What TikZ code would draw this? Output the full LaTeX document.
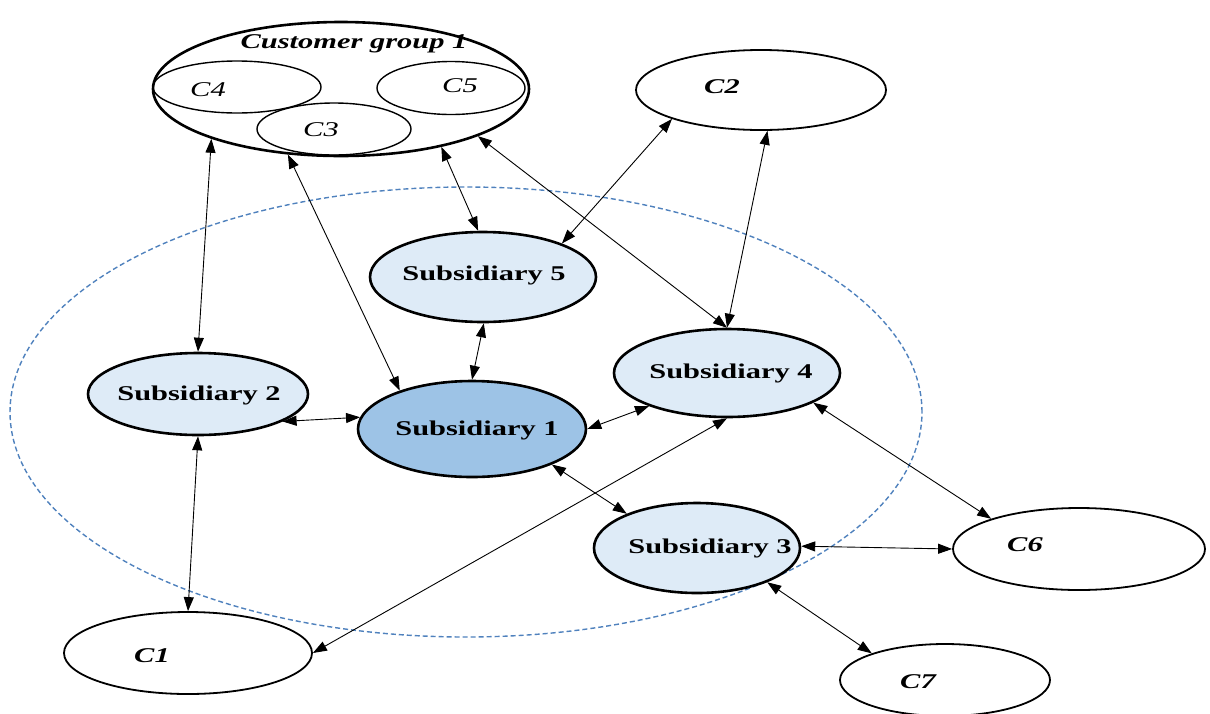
\documentclass[tikz,border=0pt]{standalone}
\usepackage{fontspec}
\setmainfont[FakeStretch=1.45]{Liberation Serif}
\usetikzlibrary{shapes.geometric,arrows.meta}
\definecolor{subfill}{HTML}{DEEBF7}
\definecolor{mainfill}{HTML}{9DC3E6}
\definecolor{ringblue}{HTML}{4F81BD}
\tikzset{
  sub/.style={ellipse,draw,line width=2.6pt,fill=subfill,inner sep=0pt},
  subtext/.style={inner sep=0pt,font=\fontsize{21}{25}\selectfont\bfseries},
  cust/.style={ellipse,draw,line width=1.8pt,fill=white,inner sep=0pt},
  part/.style={ellipse,draw,line width=1.4pt,inner sep=0pt},
  custtext/.style={inner sep=0pt,font=\fontsize{21}{25}\selectfont\bfseries\itshape},
  parttext/.style={inner sep=0pt,font=\fontsize{21}{25}\selectfont\itshape},
  link/.style={arrows={Triangle[length=14pt,width=10pt]-Triangle[length=14pt,width=10pt]},line width=0.9pt}
}
\begin{document}
\begin{tikzpicture}[x=1pt,y=1pt]
  \useasboundingbox (0,0) rectangle (1210,-713);
  % group boundary
  \draw[ringblue,dash pattern=on 5pt off 3pt,line width=1.4pt] (466,-412) ellipse [x radius=456,y radius=225];
  % customer group 1
  \node[cust,line width=2.6pt,minimum width=376pt,minimum height=134pt] (cg) at (341,-89) {};
  \node[custtext] (cgt) at (354,-44) {Customer group 1};
  \node[part,minimum width=168pt,minimum height=52pt] (c4) at (237,-87) {};
  \node[part,minimum width=148pt,minimum height=53pt] (c5) at (451,-88) {};
  \node[part,minimum width=154pt,minimum height=52pt] (c3) at (334,-129) {};
  \node[parttext] (c4t) at (208,-90) {C4};
  \node[parttext] (c5t) at (460,-86) {C5};
  \node[parttext] (c3t) at (321,-130) {C3};
  % single customers
  \node[cust,minimum width=250pt,minimum height=80pt] (c2) at (761,-90) {};
  \node[custtext] (c2t) at (722,-87) {C2};
  \node[cust,minimum width=248pt,minimum height=82pt] (c1) at (188,-653) {};
  \node[custtext] (c1t) at (152,-656) {C1};
  \node[cust,minimum width=252pt,minimum height=82pt] (c6) at (1079,-549) {};
  \node[custtext] (c6t) at (1025,-545) {C6};
  \node[cust,minimum width=210pt,minimum height=72pt] (c7) at (945,-680) {};
  \node[custtext] (c7t) at (918,-682) {C7};
  % subsidiaries
  \node[sub,minimum width=226pt,minimum height=90pt] (sub5) at (483,-277) {};
  \node[subtext] (sub5t) at (484,-275) {Subsidiary 5};
  \node[sub,minimum width=220pt,minimum height=82pt] (sub2) at (198,-394) {};
  \node[subtext] (sub2t) at (199,-395) {Subsidiary 2};
  \node[sub,fill=mainfill,minimum width=228pt,minimum height=96pt] (sub1) at (472,-429) {};
  \node[subtext] (sub1t) at (477,-430) {Subsidiary 1};
  \node[sub,minimum width=226pt,minimum height=88pt] (sub4) at (727,-373) {};
  \node[subtext] (sub4t) at (731,-373) {Subsidiary 4};
  \node[sub,minimum width=206pt,minimum height=90pt] (sub3) at (697,-548) {};
  \node[subtext] (sub3t) at (710,-548) {Subsidiary 3};
  % links
  \draw[link] (cg.201.5) -- (sub2.90);
  \draw[link] (cg.-129.3) -- (sub1.152.4);
  \draw[link] (cg.-30.7) -- (sub5.96.3);
  \draw[link] (cg.-19) -- (sub4.90);
  \draw[link] (c2.198.6) -- (sub5.23.2);
  \draw[link] (c2.-81) -- (sub4.90);
  \draw[link] (sub5.-89) -- (sub1.90);
  \draw[link] (sub2.-18.6) -- (sub1.174.5);
  \draw[link] (sub1.0) -- (sub4.203.2);
  \draw[link] (sub2.-90) -- (c1.90);
  \draw[link] (sub4.-90) -- (c1.0);
  \draw[link] (sub1.-24.8) -- (sub3.154.8);
  \draw[link] (sub4.-19.4) -- (c6.161.4);
  \draw[link] (sub3.1) -- (c6.180);
  \draw[link] (sub3.-26.3) -- (c7.160.9);
\end{tikzpicture}
\end{document}
